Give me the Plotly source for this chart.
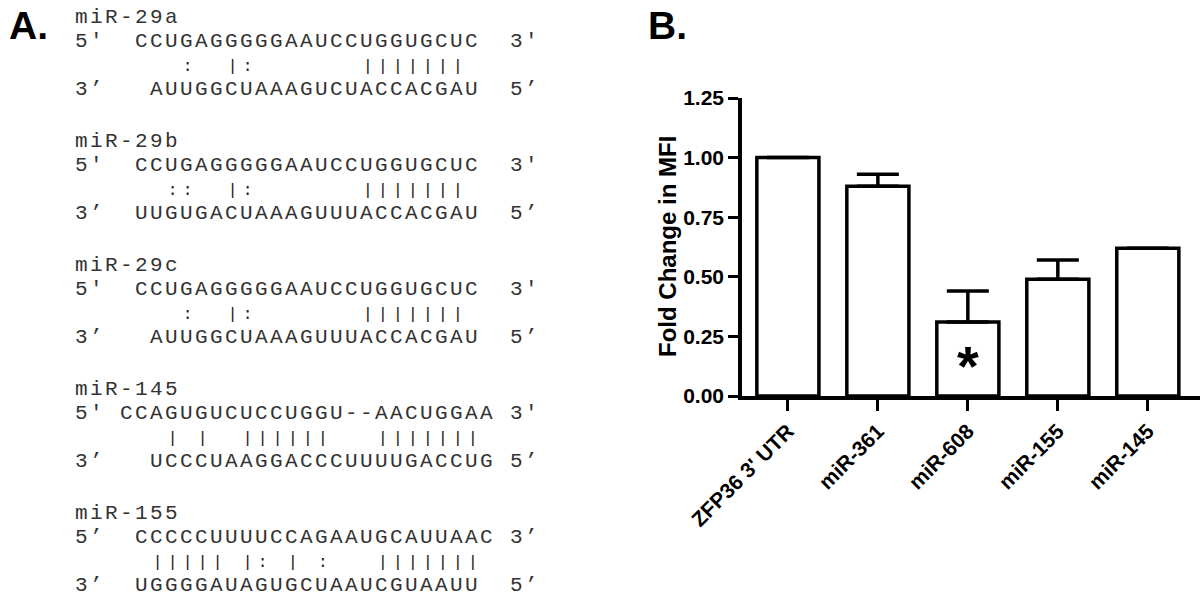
import plotly.graph_objects as go

# Panel A: miRNA / target alignments
mirna_names = ["miR-29a", "miR-29b", "miR-29c", "miR-145", "miR-155"]
top_strands = [
    "5'  CCUGAGGGGGAAUCCUGGUGCUC  3'",
    "5'  CCUGAGGGGGAAUCCUGGUGCUC  3'",
    "5'  CCUGAGGGGGAAUCCUGGUGCUC  3'",
    "5' CCAGUGUCUCCUGGU--AACUGGAA 3'",
    "5’  CCCCCUUUUCCAGAAUGCAUUAAC 3’",
]
pair_lines = [
    "       :  |:       |||||||",
    "      ::  |:       |||||||",
    "       :  |:       |||||||",
    "      | |  ||||||   |||||||",
    "     ||||| |: | :   |||||||",
]
bottom_strands = [
    "3’   AUUGGCUAAAGUCUACCACGAU  5’",
    "3’  UUGUGACUAAAGUUUACCACGAU  5’",
    "3’   AUUGGCUAAAGUUUACCACGAU  5’",
    "3’   UCCCUAAGGACCCUUUUGACCUG 5’",
    "3’  UGGGGAUAGUGCUAAUCGUAAUU  5’",
]

# Panel B: fold change in MFI
categories = ["ZFP36 3' UTR", "miR-361", "miR-608", "miR-155", "miR-145"]
fold_change = [1.00, 0.88, 0.31, 0.49, 0.62]
sem_up = [0.0, 0.05, 0.13, 0.08, 0.0]
y_ticks = [0.00, 0.25, 0.50, 0.75, 1.00, 1.25]

W, H = 1200, 598
def py(px):
    return 1 - px / H

def seq_markup(line):
    # 21px mono glyphs spread to the 15px column pitch of the original
    return ('<span style="font-size:21px;letter-spacing:2.4px">'
            + line.replace(" ", "\u00a0") + "</span>")

def pair_markup(line):
    # short bond symbols on the same 15px column pitch
    out = []
    for c in line:
        g = "\u00a0" if c == " " else c
        out.append('<span style="font-size:4px">\u00a0</span>'
                   f'<span style="font-size:17px;color:#222">{g}</span>'
                   '<span style="font-size:4px">\u00a0</span>')
    return "".join(out)

fig = go.Figure()

fig.add_trace(go.Bar(
    x=categories, y=fold_change, width=0.69,
    marker=dict(color="white", line=dict(color="black", width=3.5)),
    error_y=dict(type="data", symmetric=False, array=sem_up,
                 arrayminus=[0] * len(sem_up), color="black",
                 thickness=3.5, width=21),
    showlegend=False, hoverinfo="x+y",
))

# one text block per alignment; line pitch = 1.3 x base font size = 24 px
mono = dict(family="Liberation Mono, Courier New, monospace", size=24 / 1.3, color="#333333")
block_tops = [23, 147, 271, 395, 519]
for k, name in enumerate(mirna_names):
    lines = [seq_markup(name), seq_markup(top_strands[k]),
             pair_markup(pair_lines[k]), seq_markup(bottom_strands[k])]
    fig.add_annotation(
        x=73 / W, y=py(block_tops[k] - 19.5), xref="paper", yref="paper",
        text="<br>".join(lines), showarrow=False, align="left",
        xanchor="left", yanchor="top", font=mono,
    )

bold = dict(family="Liberation Sans, Arial, sans-serif", color="black", weight="bold")
fig.add_annotation(x=7 / W, y=py(26), xref="paper", yref="paper", text="A.",
                   showarrow=False, xanchor="left", yanchor="middle",
                   font=dict(bold, size=39))
fig.add_annotation(x=646 / W, y=py(26), xref="paper", yref="paper", text="B.",
                   showarrow=False, xanchor="left", yanchor="middle",
                   font=dict(bold, size=39))
fig.add_annotation(x=667 / W, y=py(247), xref="paper", yref="paper",
                   text="Fold Change in MFI", textangle=-90, showarrow=False,
                   xanchor="center", yanchor="middle", font=dict(bold, size=24))
fig.add_annotation(x="miR-608", y=0.13, xref="x", yref="y", text="*",
                   showarrow=False, xanchor="center", yanchor="middle",
                   font=dict(bold, size=56))

fig.update_layout(
    width=W, height=H, margin=dict(l=0, r=0, t=0, b=0, autoexpand=False),
    paper_bgcolor="white", plot_bgcolor="white",
    xaxis=dict(domain=[742 / W, 1.0], range=[-0.51, 4.58], automargin=False,
               showline=True, linewidth=3.5, linecolor="black",
               ticks="outside", ticklen=11, tickwidth=3, tickcolor="black",
               tickangle=-45, tickfont=dict(bold, size=21),
               showgrid=False, zeroline=False),
    yaxis=dict(domain=[py(396), py(98)], range=[0, 1.25], automargin=False,
               tickvals=y_ticks, tickformat=".2f",
               showline=True, linewidth=3.5, linecolor="black",
               ticks="outside", ticklen=10, tickwidth=3, tickcolor="black",
               tickfont=dict(bold, size=21),
               showgrid=False, zeroline=False),
)

# drop the browser's default body margin so the figure sits at the page origin
fig.write_html("out.html", config={"displayModeBar": False},
               post_script="document.body.style.margin = '0px';")
